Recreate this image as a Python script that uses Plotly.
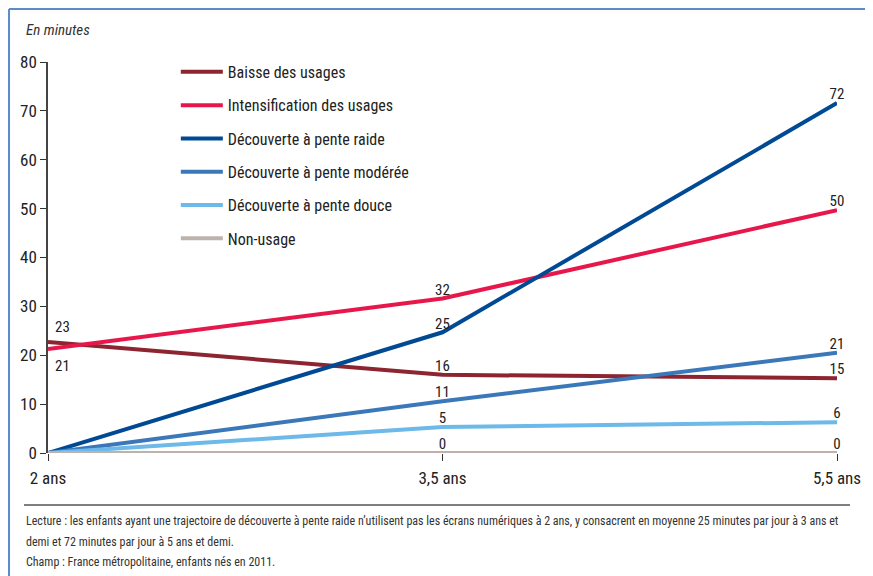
import plotly.graph_objects as go

categories = ["2 ans", "3,5 ans", "5,5 ans"]
series_names = [
    "Baisse des usages",
    "Intensification des usages",
    "Découverte à pente raide",
    "Découverte à pente modérée",
    "Découverte à pente douce",
    "Non-usage",
]
baisse = [22.7, 16, 15.3]
intensification = [21.3, 31.6, 49.7]
raide = [0, 24.7, 71.6]
moderee = [0, 10.6, 20.5]
douce = [0, 5.3, 6.3]
non_usage = [0, 0, 0]

labels = {
    "Baisse des usages": ["23", "16", "15"],
    "Intensification des usages": ["21", "32", "50"],
    "Découverte à pente raide": ["", "25", "72"],
    "Découverte à pente modérée": ["", "11", "21"],
    "Découverte à pente douce": ["", "5", "6"],
    "Non-usage": ["", "0", "0"],
}
# first-point labels drawn as annotations (above for Baisse, below for Intensification)
first_label_shift = {"Baisse des usages": 15, "Intensification des usages": -17}

colors = ["#8C2530", "#E8174B", "#004A94", "#3B78BA", "#6DB9E9", "#BDB2AC"]
values = [baisse, intensification, raide, moderee, douce, non_usage]

FONT = "Liberation Sans Narrow, Roboto Condensed, Arial Narrow, Roboto, sans-serif"

fig = go.Figure()
for i in range(6):
    name = series_names[i]
    txt = list(labels[name])
    if name in first_label_shift:
        fig.add_annotation(x=0, y=values[i][0], text=txt[0], showarrow=False,
                           xanchor="left", yanchor="middle", xshift=5,
                           yshift=first_label_shift[name],
                           font=dict(family=FONT, size=15, color="#222"))
        txt[0] = ""
    fig.add_trace(go.Scatter(
        x=[0, 1, 2], y=values[i], name=name, mode="lines+text",
        line=dict(color=colors[i], width=4),
        text=txt, textposition="top center",
        textfont=dict(family=FONT, size=15, color="#222"),
        cliponaxis=False, legendgroup=name, legendrank=i + 1,
    ))

fig.update_layout(
    width=873, height=576,
    margin=dict(l=40, r=44, t=54, b=131),
    paper_bgcolor="white", plot_bgcolor="white",
    font=dict(family=FONT, size=16, color="#222"),
    showlegend=True,
    legend=dict(x=0.162, y=1.018, xanchor="left", yanchor="top",
                bgcolor="rgba(0,0,0,0)", font=dict(family=FONT, size=16, color="#222"),
                traceorder="grouped", tracegroupgap=9.5, itemwidth=42),
    xaxis=dict(range=[0, 2], tickmode="array", tickvals=[0, 1, 2], ticktext=categories,
               showgrid=False, zeroline=False, showline=False,
               ticks="outside", ticklen=7, tickcolor="#333", tickwidth=1,
               ticklabelstandoff=3,
               tickfont=dict(family=FONT, size=17, color="#222")),
    yaxis=dict(range=[0, 80], tickvals=[0, 10, 20, 30, 40, 50, 60, 70, 80],
               showgrid=False, zeroline=False, showline=True, linecolor="#444", linewidth=1.5,
               ticks="outside", ticklen=6, tickcolor="#333", tickwidth=1,
               tickfont=dict(family=FONT, size=17, color="#222")),
)

# frame and separator
fig.add_shape(type="line", xref="paper", yref="paper", x0=-0.0494, x1=1.1, y0=1.1355, y1=1.1355,
              line=dict(color="#5B8CC8", width=2))
fig.add_shape(type="line", xref="paper", yref="paper", x0=-0.0494, x1=-0.0494, y0=1.1355, y1=-0.34,
              line=dict(color="#5B8CC8", width=2))
fig.add_shape(type="line", xref="paper", yref="paper", x0=-0.0304, x1=1.0165, y0=-0.133, y1=-0.133,
              line=dict(color="#555", width=1.5))

fig.add_annotation(xref="paper", yref="paper", x=-0.0304, y=1.082, xanchor="left", yanchor="middle",
                   text="<i>En minutes</i>", showarrow=False,
                   font=dict(family=FONT, size=15, color="#333"))

notes = [
    "Lecture : les enfants ayant une trajectoire de découverte à pente raide n’utilisent pas les écrans numériques à 2 ans, y consacrent en moyenne 25 minutes par jour à 3 ans et",
    "demi et 72 minutes par jour à 5 ans et demi.",
    "Champ : France métropolitaine, enfants nés en 2011.",
]
note_y = [-0.174, -0.2276, -0.2788]
for t, yy in zip(notes, note_y):
    fig.add_annotation(xref="paper", yref="paper", x=-0.0304, y=yy, xanchor="left", yanchor="middle",
                       text=t, showarrow=False, font=dict(family=FONT, size=12, color="#333"))

fig.write_html("out.html")
